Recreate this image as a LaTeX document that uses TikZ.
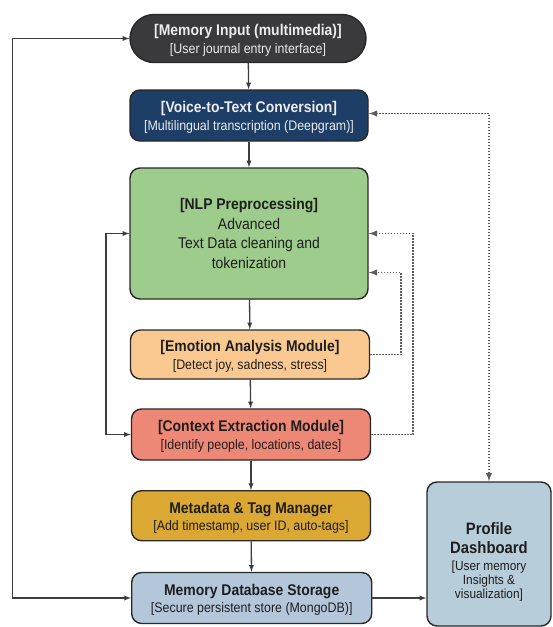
\documentclass[tikz,border=0pt]{standalone}
\usepackage{fontspec}
\setmainfont{Liberation Sans}[FakeStretch=0.9]
\usetikzlibrary{calc}
\definecolor{inputgray}{RGB}{58,57,60}
\definecolor{voiceblue}{RGB}{29,62,102}
\definecolor{nlpgreen}{RGB}{158,204,140}
\definecolor{emopeach}{RGB}{250,201,146}
\definecolor{ctxsalmon}{RGB}{237,136,119}
\definecolor{metagold}{RGB}{219,168,52}
\definecolor{dbblue}{RGB}{180,199,218}
\definecolor{profblue}{RGB}{184,205,218}
\definecolor{edge}{RGB}{40,40,40}
\definecolor{ink}{RGB}{30,30,30}
\definecolor{lighttext}{RGB}{236,236,236}
\newcommand{\boxlabel}[2]{{\bfseries\fontsize{15.5}{17.5}\selectfont\rule{0pt}{15pt}#1}\\{\fontsize{13.8}{17.5}\selectfont #2}}
\tikzset{
  stage/.style={draw=edge, line width=1.4pt, rounded corners=10pt, align=center,
    text=ink, inner sep=2pt, minimum width=239pt, minimum height=50pt,
    font=\fontsize{13.8}{17.5}\selectfont},
  flow/.style={draw=edge!90, line width=1.3pt, -latex},
  dotflow/.style={draw=edge!75, line width=1.9pt, dash pattern=on 1.6pt off 1.4pt, -latex}
}

\begin{document}
\begin{tikzpicture}[x=1pt,y=-1pt]
\useasboundingbox (0,0) rectangle (552,627);
\node[stage, fill=inputgray, text=lighttext, rounded corners=24pt, minimum width=236pt, minimum height=48pt] (inp) at (248,38.5) {\boxlabel{[Memory Input (multimedia)]}{[User journal entry interface]}};
\node[stage, fill=voiceblue, text=lighttext, minimum width=238pt, minimum height=51pt] (voice) at (249,115.5) {\boxlabel{[Voice-to-Text Conversion]}{[Multilingual transcription (Deepgram)]}};
\node[stage, fill=nlpgreen, minimum width=238pt, minimum height=131pt, font=\fontsize{15.5}{19.5}\selectfont] (nlp) at (249,233.5) {{\bfseries [NLP Preprocessing]}\\Advanced\\Text Data cleaning and\\tokenization};
\node[stage, fill=emopeach, minimum height=49pt] (emo) at (250,354.5) {\boxlabel{[Emotion Analysis Module]}{[Detect joy, sadness, stress]}};
\node[stage, fill=ctxsalmon, minimum height=51pt] (ctx) at (251,434.5) {\boxlabel{[Context Extraction Module]}{[Identify people, locations, dates]}};
\node[stage, fill=metagold] (meta) at (251,515.7) {\boxlabel{Metadata \& Tag Manager}{[Add timestamp, user ID, auto-tags]}};
\node[stage, fill=dbblue, minimum width=240pt, minimum height=51pt] (db) at (251.7,598) {\boxlabel{Memory Database Storage}{[Secure persistent store (MongoDB)]}};
\node[stage, fill=profblue, minimum width=124pt, minimum height=144pt, font=\fontsize{13.2}{14}\selectfont] (prof) at (489,554) {{\bfseries\fontsize{16.5}{19}\selectfont\rule{0pt}{28pt}Profile}\\[5pt]{\bfseries\fontsize{16.5}{19}\selectfont Dashboard}\\[3pt]{[}User memory\\Insights \&\\visualization]};
\foreach \a/\b in {inp/voice,voice/nlp,nlp/emo,emo/ctx,ctx/meta,meta/db}
  \draw[flow] (\a) -- (\b);
\draw[flow] (db.east) -- (db.east -| prof.west);
\draw[flow,latex-latex] (inp.west) -- ++(-116.6,0) |- (db.west);
\draw[flow,latex-latex] (nlp.west) -- ++(-23.3,0) |- (ctx.west);
\draw[dotflow,latex-latex] ([yshift=2pt]voice.east) -| (prof.north);
\draw[dotflow] (emo.east) -- ++(31,0) |- ([yshift=-39pt]nlp.east);
\draw[dotflow] (ctx.east) -- ++(42,0) |- (nlp.east);
\end{tikzpicture}
\end{document}
